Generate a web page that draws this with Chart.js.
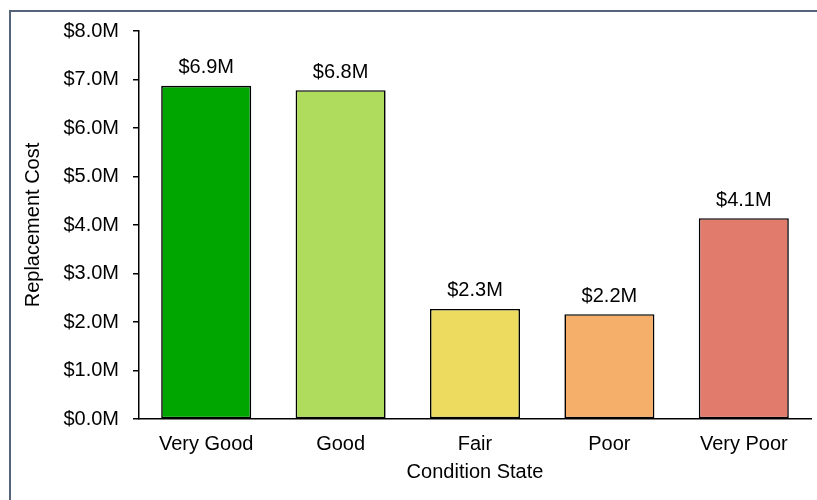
<!DOCTYPE html>
<html>
<head>
<meta charset="utf-8">
<title>Replacement Cost by Condition State</title>
<script src="https://cdn.jsdelivr.net/npm/chart.js@4.4.1/dist/chart.umd.min.js"></script>
<style>
  html, body { margin: 0; padding: 0; background: #ffffff; overflow: hidden; }
  #wrap { position: relative; width: 817px; height: 500px; }
  #chart { position: absolute; left: 0; top: 0; }
  #frame {
    position: absolute; left: 9px; top: 10px; width: 900px; height: 600px;
    border-top: 2px solid #55647a; border-left: 2px solid #55647a;
    pointer-events: none;
  }
</style>
</head>
<body>
<div id="wrap">
  <canvas id="chart" width="817" height="500"></canvas>
  <div id="frame"></div>
</div>
<script>
// Condition categories and replacement cost (in $ millions)
const conditionStates = ['Very Good', 'Good', 'Fair', 'Poor', 'Very Poor'];
const replacementCostM = [6.87, 6.78, 2.27, 2.16, 4.14];
const barColors = ['#00a600', '#b0dc5e', '#eddb60', '#f6ae6b', '#e17b6b'];
const yTickValues = [0, 1, 2, 3, 4, 5, 6, 7, 8];

const FONT = 'Liberation Sans, Arial, sans-serif';
const fmtMoney = v => '$' + Number(v).toFixed(1) + 'M';

// Draws the "$x.xM" value above each bar
const valueLabels = {
  id: 'valueLabels',
  afterDatasetsDraw(chart) {
    const ctx = chart.ctx;
    const meta = chart.getDatasetMeta(0);
    ctx.save();
    ctx.font = '20px ' + FONT;
    ctx.fillStyle = '#000000';
    ctx.textAlign = 'center';
    ctx.textBaseline = 'middle';
    meta.data.forEach((bar, i) => {
      ctx.fillText(fmtMoney(replacementCostM[i]), bar.x, bar.y - 18);
    });
    ctx.restore();
  }
};

new Chart(document.getElementById('chart'), {
  type: 'bar',
  data: {
    labels: conditionStates,
    datasets: [{
      data: replacementCostM,
      backgroundColor: barColors,
      borderColor: '#000000',
      borderWidth: 1.6,
      borderSkipped: false,
      barPercentage: 0.67,
      categoryPercentage: 1.0
    }]
  },
  options: {
    responsive: false,
    animation: false,
    events: [],
    layout: { padding: { left: 0, right: 6, top: 31, bottom: 0 } },
    plugins: { legend: { display: false }, tooltip: { enabled: false } },
    scales: {
      x: {
        grid: { display: false, drawTicks: false },
        border: { display: true, color: '#000000', width: 1.5 },
        ticks: { color: '#000000', font: { family: FONT, size: 20 }, padding: 13, maxRotation: 0 },
        title: {
          display: true, text: 'Condition State', color: '#000000',
          font: { family: FONT, size: 20 }, padding: { top: 0, bottom: 16 }
        },
        afterFit(scale) { scale.height = 81; }
      },
      y: {
        min: 0, max: 8,
        afterBuildTicks(scale) { scale.ticks = yTickValues.map(v => ({ value: v })); },
        grid: { drawOnChartArea: false, drawTicks: true, tickLength: 6, color: '#000000', lineWidth: 1.5 },
        border: { display: true, color: '#000000', width: 1.5 },
        ticks: {
          color: '#000000', font: { family: FONT, size: 20 }, padding: 14,
          callback: v => fmtMoney(v)
        },
        title: {
          display: true, text: 'Replacement Cost', color: '#000000',
          font: { family: FONT, size: 20 }, padding: { top: 21, bottom: 0 }
        },
        afterFit(scale) { scale.width = 139; }
      }
    }
  },
  plugins: [valueLabels]
});
</script>
</body>
</html>
